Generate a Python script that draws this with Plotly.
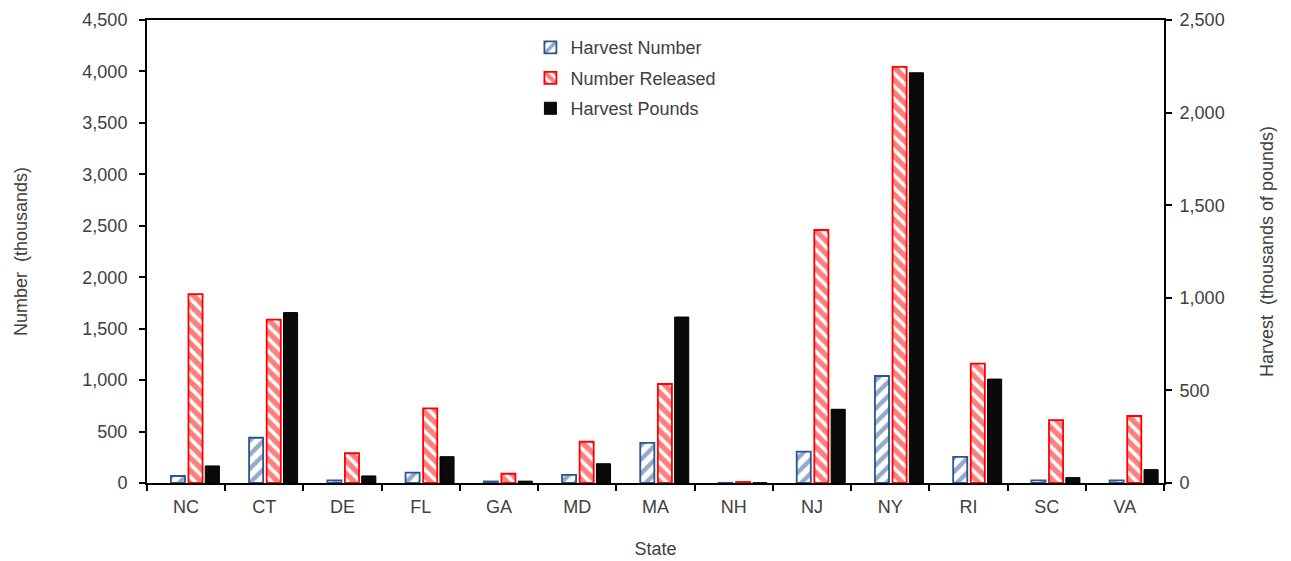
import plotly.graph_objects as go

states = ["NC", "CT", "DE", "FL", "GA", "MD", "MA", "NH", "NJ", "NY", "RI", "SC", "VA"]
harvest_number = [68, 440, 25, 100, 15, 78, 390, 2, 304, 1040, 253, 25, 25]
number_released = [1835, 1587, 289, 726, 90, 401, 962, 10, 2459, 4045, 1160, 612, 651]
harvest_pounds = [92, 920, 38, 142, 10, 104, 896, 1, 398, 2215, 561, 29, 72]

left_ticks = list(range(0, 4501, 500))
right_ticks = list(range(0, 2501, 500))

font_family = "Liberation Sans, Arial, sans-serif"
txt = "#404040"
fs = 18

fig = go.Figure()
fig.add_trace(go.Bar(
    x=states, y=harvest_number, name="Harvest Number", yaxis="y",
    width=0.18, offset=-0.195, legendgroup="a",
    marker=dict(color="white", line=dict(color="#2A5590", width=1.8),
                pattern=dict(shape="/", fgcolor="#2A5590", bgcolor="white", size=10, solidity=0.45)),
))
fig.add_trace(go.Bar(
    x=states, y=number_released, name="Number Released", yaxis="y",
    width=0.18, offset=0.03, legendgroup="b",
    marker=dict(color="white", line=dict(color="#FF0000", width=1.8),
                pattern=dict(shape="\\", fgcolor="#FF0000", bgcolor="white", size=9, solidity=0.6)),
))
fig.add_trace(go.Bar(
    x=states, y=harvest_pounds, name="Harvest Pounds", yaxis="y2",
    width=0.18, offset=0.245, legendgroup="c",
    marker=dict(color="#0A0A0A", line=dict(color="#000000", width=1)),
))

fig.update_layout(
    width=1291, height=561,
    paper_bgcolor="white", plot_bgcolor="white",
    margin=dict(l=139, r=135, t=12, b=86),
    font=dict(family=font_family, size=fs, color=txt),
    barmode="overlay",
    showlegend=True,
    legend=dict(x=0.377, y=0.98, xanchor="left", yanchor="top",
                bgcolor="rgba(0,0,0,0)", tracegroupgap=4,
                font=dict(size=fs, color=txt)),
    xaxis=dict(
        categoryorder="array", categoryarray=states, automargin=False,
        showline=True, linecolor="black", linewidth=2, mirror=True,
        ticks="outside", ticklen=6, tickcolor="black", tickwidth=1.5,
        tickson="boundaries", showgrid=False, ticklabelstandoff=6,
        title=dict(text="State", standoff=27, font=dict(size=fs, color=txt)),
        tickfont=dict(size=fs, color=txt),
    ),
    yaxis=dict(
        range=[0, 4500], tickvals=left_ticks, automargin=False,
        ticktext=[f"{v:,}" for v in left_ticks],
        showline=True, linecolor="black", linewidth=2,
        ticks="outside", ticklen=6, tickcolor="black", tickwidth=1.5,
        showgrid=False, zeroline=False, ticklabelstandoff=8,
        title=dict(text="Number  (thousands)", standoff=50, font=dict(size=fs, color=txt)),
        tickfont=dict(size=fs, color=txt),
    ),
    yaxis2=dict(
        range=[0, 2500], tickvals=right_ticks, automargin=False,
        ticktext=[f"{v:,}" for v in right_ticks],
        overlaying="y", side="right",
        showline=True, linecolor="black", linewidth=2,
        ticks="outside", ticklen=6, tickcolor="black", tickwidth=1.5,
        showgrid=False, zeroline=False, ticklabelstandoff=4,
        title=dict(text="Harvest  (thousands of pounds)", standoff=37, font=dict(size=fs, color=txt)),
        tickfont=dict(size=fs, color=txt),
    ),
)

fig.write_html("out.html")
